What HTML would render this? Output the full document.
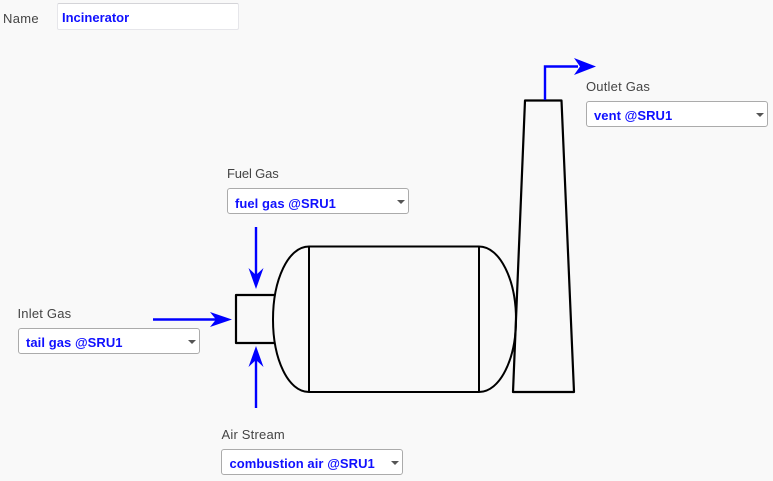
<!DOCTYPE html>
<html><head><meta charset="utf-8"><style>
html,body{margin:0;padding:0;width:773px;height:481px;overflow:hidden;background:#f9f9f9}
body{position:relative;font-family:"Liberation Sans",sans-serif}
.l{position:absolute;font-size:13px;color:#444;line-height:16px;white-space:nowrap;letter-spacing:.2px}
.s{position:absolute;box-sizing:border-box;width:182px;height:26px;background:#fff;border:1px solid #ababab;border-radius:3px;color:#1010ff;font-weight:bold;font-size:13px;line-height:28px;padding-left:7px;white-space:nowrap;letter-spacing:.06px}
.s:after{content:"";position:absolute;right:3.500px;top:10.500px;border-left:4px solid transparent;border-right:4px solid transparent;border-top:4px solid #555}
svg{position:absolute;left:0;top:0}
</style></head><body>
<svg width="773" height="481" fill="none">
<g stroke="#000" stroke-width="2.2" stroke-linejoin="round">
<path d="M275 295H236V343H275"/>
<path d="M309 246.500H479C500 246.500 516 280 516 319.500C516 359 500 392 479 392H309C288 392 273 359 273 319.500C273 280 288 246.500 309 246.500Z" stroke-width="2"/>
<path d="M309 246.500V392M479 246.500V392" stroke-width="2"/>
<path d="M525 100.500H561.500L574 392H513Z"/>
</g>
<g stroke="#0000ff" stroke-width="2.400">
<path d="M545 100V66.500H578"/>
<path d="M256 227V275"/>
<path d="M153 319.500H218"/>
<path d="M256 408V360"/>
</g>
<g fill="#0000ff">
<path d="M596 66.500L574 58L580 66.500L574 75Z"/>
<path d="M256 289L248.500 268L256 275L263.500 268Z"/>
<path d="M232 319.500L210 312L216 319.500L210 327Z"/>
<path d="M256 346L248.500 367L256 360L263.500 367Z"/>
</g>
</svg>
<div class="l" style="left:3px;top:11px;letter-spacing:.3px">Name</div>
<div style="position:absolute;left:57px;top:3px;width:182px;height:27px;box-sizing:border-box;background:#fff;border:1px solid #e6e6ea;border-top:1px solid #d4d4d8;border-radius:2px;color:#1010ff;font-weight:bold;font-size:13px;line-height:28px;padding-left:4px">Incinerator</div>
<div class="l" style="left:586px;top:79px">Outlet Gas</div>
<div class="s" style="left:586px;top:101px">vent @SRU1</div>
<div class="l" style="left:227px;top:166px;letter-spacing:-.15px">Fuel Gas</div>
<div class="s" style="left:227px;top:188px;line-height:30px">fuel gas @SRU1</div>
<div class="l" style="left:17.500px;top:306px">Inlet Gas</div>
<div class="s" style="left:18px;top:328px">tail gas @SRU1</div>
<div class="l" style="left:221.500px;top:427px">Air Stream</div>
<div class="s" style="left:221px;top:449px;padding-left:7.500px">combustion air @SRU1</div>
</body></html>
